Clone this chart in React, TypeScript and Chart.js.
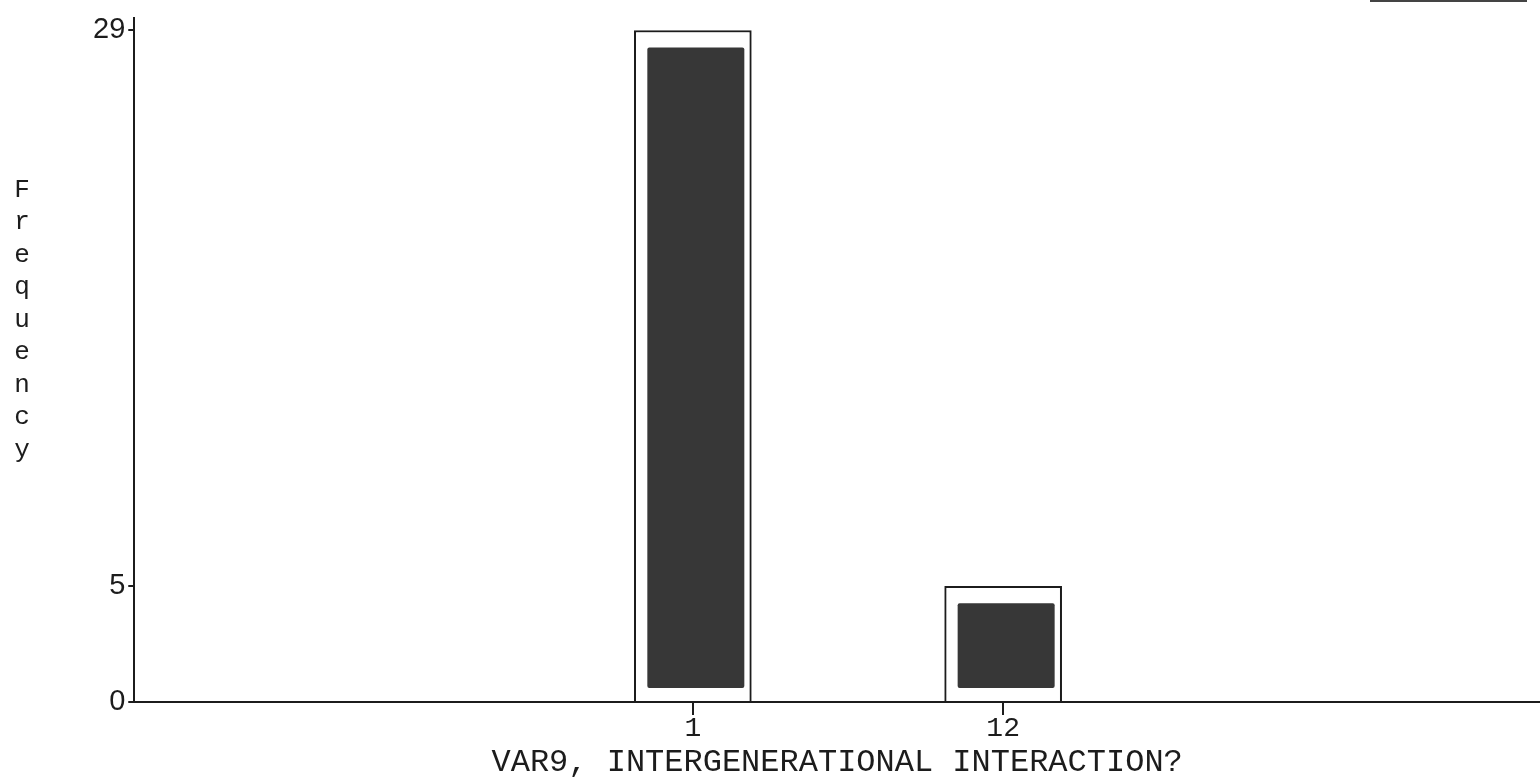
import React, { useEffect, useRef } from "react";
import { Chart, registerables } from "chart.js";

Chart.register(...registerables);

// ---- data ----
const categories: string[] = ["1", "12"];
const frequencies: number[] = [29, 5];
const yTickValues: number[] = [0, 5, 29];
const xTitle = "VAR9, INTERGENERATIONAL INTERACTION?";
const yTitleLetters: string[] = ["F", "r", "e", "q", "u", "e", "n", "c", "y"];

const INK = "#1c1c1c";
const FILL = "#373737";
const MONO = "'Liberation Mono', 'DejaVu Sans Mono', monospace";

const innerBarPlugin = {
  id: "innerBar",
  afterDatasetsDraw(chart: any) {
    const ctx = chart.ctx;
    const meta = chart.getDatasetMeta(0);
    ctx.save();
    ctx.fillStyle = FILL;
    meta.data.forEach((el: any) => {
      const { x, y, base, width } = el.getProps(["x", "y", "base", "width"], true);
      const left = x - width / 2 + 13;
      const right = x + width / 2 - 7;
      const top = y + 17;
      const bottom = base - 13;
      ctx.beginPath();
      if ((ctx as any).roundRect) {
        (ctx as any).roundRect(left, top, right - left, bottom - top, 2);
      } else {
        ctx.rect(left, top, right - left, bottom - top);
      }
      ctx.fill();
    });
    ctx.restore();
  },
};

const decorPlugin = {
  id: "decor",
  afterDraw(chart: any) {
    const ctx = chart.ctx;
    ctx.save();
    // vertical stacked y-axis title
    ctx.fillStyle = INK;
    ctx.font = "26px " + MONO;
    ctx.textAlign = "center";
    ctx.textBaseline = "middle";
    yTitleLetters.forEach((ch, i) => {
      ctx.fillText(ch, 22, 190 + i * 32.5);
    });
    // frame fragment at top right
    ctx.strokeStyle = "#444";
    ctx.lineWidth = 2;
    ctx.beginPath();
    ctx.moveTo(1370, 1);
    ctx.lineTo(1527, 1);
    ctx.stroke();
    ctx.restore();
  },
};

export default function App() {
  const canvasRef = useRef<HTMLCanvasElement | null>(null);

  useEffect(() => {
    if (!canvasRef.current) return;
    const chart = new Chart(canvasRef.current, {
      type: "bar",
      data: {
        datasets: [
          {
            label: "Frequency",
            data: categories.map((c, i) => ({ x: i, y: frequencies[i] })) as any,
            backgroundColor: "#ffffff",
            borderColor: INK,
            borderWidth: 2,
            borderSkipped: "bottom",
            barThickness: 117,
          },
        ],
      },
      options: {
        animation: false,
        responsive: false,
        devicePixelRatio: 1,
        layout: { padding: { left: 90, top: 15, right: 0, bottom: 0 } },
        plugins: {
          legend: { display: false },
          tooltip: { enabled: false },
          title: { display: false },
        },
        scales: {
          x: {
            type: "linear",
            min: -1.8,
            max: 2.73,
            offset: false,
            afterBuildTicks: (axis: any) => {
              axis.ticks = categories.map((_, i) => ({ value: i }));
            },
            ticks: {
              autoSkip: false,
              maxRotation: 0,
              padding: 0,
              color: INK,
              font: { family: MONO, size: 28, lineHeight: 1 },
              callback: (v: any) => categories[Math.round(Number(v))] ?? "",
            },
            grid: {
              display: true,
              offset: false,
              drawOnChartArea: false,
              drawTicks: true,
              tickLength: 13,
              color: INK,
              lineWidth: 2,
            },
            border: { display: true, color: INK, width: 2 },
            title: {
              display: true,
              text: xTitle,
              color: INK,
              font: { family: MONO, size: 32, lineHeight: 1 },
              padding: { top: 4, bottom: 0 },
            },
          },
          y: {
            type: "linear",
            min: 0,
            max: 29.56,
            afterBuildTicks: (axis: any) => {
              axis.ticks = yTickValues.map((v) => ({ value: v }));
            },
            ticks: {
              autoSkip: false,
              padding: 3,
              color: INK,
              font: { family: "'Liberation Sans', Arial, sans-serif", size: 29, lineHeight: 1 },
              callback: (v: any) => String(v),
            },
            grid: {
              display: true,
              drawOnChartArea: false,
              drawTicks: true,
              tickLength: 6,
              color: INK,
              lineWidth: 2,
            },
            border: { display: true, color: INK, width: 2 },
          },
        },
      },
      plugins: [innerBarPlugin, decorPlugin],
    });
    return () => chart.destroy();
  }, []);

  return (
    <div style={{ position: "fixed", left: 0, top: 0, width: 1540, height: 779, background: "#fff" }}>
      <canvas ref={canvasRef} width={1540} height={779} style={{ width: 1540, height: 779, display: "block" }} />
    </div>
  );
}
